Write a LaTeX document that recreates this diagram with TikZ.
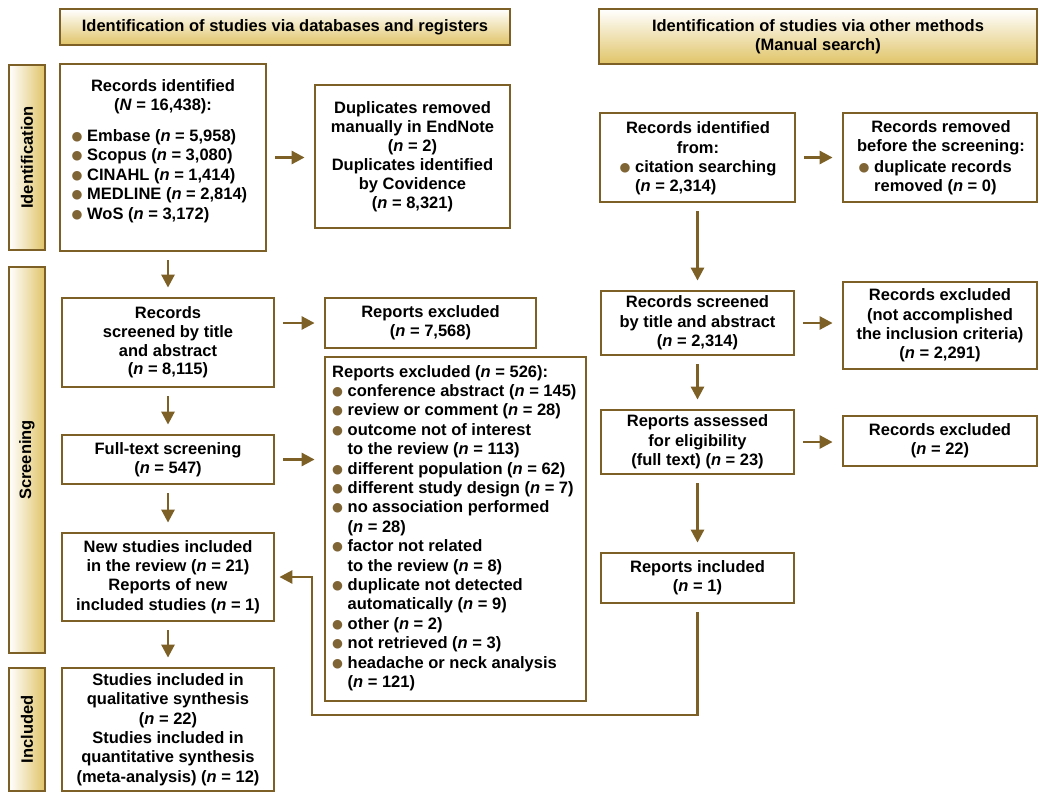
\documentclass[tikz,border=0pt]{standalone}
\usepackage{fontspec}
\setmainfont{Liberation Sans}
\newfontfamily\dejavu{DejaVu Sans}
\usetikzlibrary{arrows.meta}
\definecolor{brn}{HTML}{7D6025}
\definecolor{gld}{HTML}{E0C468}
\definecolor{bulc}{HTML}{7F6535}
\newcommand\bul{\makebox[15.5pt][l]{\raisebox{1pt}{\textcolor{bulc}{\fontsize{12.5}{12}\dejavu ●}}}}
\newcommand\ind{\hspace*{15.5pt}}
\begin{document}
\begin{tikzpicture}[x=1pt,y=-1pt,
  every node/.style={font=\fontsize{16.5}{19.4}\selectfont\bfseries, inner sep=0pt},
  box/.style={draw=brn, line width=2.8pt, fill=white, align=center},
  hdr/.style={draw=brn, line width=2.8pt, top color=white, bottom color=gld, align=center},
  side/.style={draw=brn, line width=2.8pt, left color=white, right color=gld},
  arr/.style={draw=brn, line width=2.8pt, -{Triangle[width=13pt,length=13pt]}, shorten <=8pt, shorten >=9pt}]
\useasboundingbox (0,0) rectangle (1039,798);
% headers
\node[hdr, minimum width=450pt, minimum height=36pt] (h1) at (285,27) {Identification of studies via databases and registers};
\node[hdr, minimum width=438pt, minimum height=55pt] (h2) at (818,36.5) {Identification of studies via other methods\\(Manual search)};
% side bars
\node[side, minimum width=36pt, minimum height=185pt] (sI) at (27,157.5) {};
\node[rotate=90] (sIt) at (27,157.5) {Identification};
\node[side, minimum width=36pt, minimum height=386pt] (sS) at (27,460) {};
\node[rotate=90] (sSt) at (27,460) {Screening};
\node[side, minimum width=36pt, minimum height=123pt] (sN) at (27,729.5) {};
\node[rotate=90] (sNt) at (27,729.5) {Included};
% left column
\node[box, minimum width=206pt, minimum height=187pt] (rid) at (163,157.5) {};
\node[align=center] (ridt) at (163,97) {Records identified\\(\textit{N} = 16,438):};
\node[align=left, anchor=west] (ridl) at (71.5,176) {\bul Embase (\textit{n} = 5,958)\\\bul Scopus (\textit{n} = 3,080)\\\bul CINAHL (\textit{n} = 1,414)\\\bul MEDLINE (\textit{n} = 2,814)\\\bul WoS (\textit{n} = 3,172)};
\node[box, minimum width=195pt, minimum height=143pt, font=\fontsize{16.5}{19}\selectfont\bfseries] (dup) at (412.5,156.5) {Duplicates removed\\manually in EndNote\\(\textit{n} = 2)\\Duplicates identified\\by Covidence\\(\textit{n} = 8,321)};
\node[box, minimum width=212pt, minimum height=89pt, font=\fontsize{16.5}{18.6}\selectfont\bfseries] (scr) at (168,342.5) {Records\\screened by title\\and abstract\\(\textit{n} = 8,115)};
\node[box, minimum width=211pt, minimum height=50pt] (ex1) at (430.5,323) {Reports excluded\\(\textit{n} = 7,568)};
\node[box, minimum width=261pt, minimum height=344pt] (ex2) at (455.5,529) {};
\node[align=left, anchor=west] (ex2l) at (332,528) {Reports excluded (\textit{n} = 526):\\
\bul conference abstract (\textit{n} = 145)\\
\bul review or comment (\textit{n} = 28)\\
\bul outcome not of interest\\
\ind to the review (\textit{n} = 113)\\
\bul different population (\textit{n} = 62)\\
\bul different study design (\textit{n} = 7)\\
\bul no association performed\\
\ind (\textit{n} = 28)\\
\bul factor not related\\
\ind to the review (\textit{n} = 8)\\
\bul duplicate not detected\\
\ind automatically (\textit{n} = 9)\\
\bul other (\textit{n} = 2)\\
\bul not retrieved (\textit{n} = 3)\\
\bul headache or neck analysis\\
\ind (\textit{n} = 121)};
\node[box, minimum width=212pt, minimum height=49pt] (ft) at (168,459.5) {Full-text screening\\(\textit{n} = 547)};
\node[box, minimum width=212pt, minimum height=88pt] (ns) at (168,577) {New studies included\\in the review (\textit{n} = 21)\\Reports of new\\included studies (\textit{n} = 1)};
\node[box, minimum width=212pt, minimum height=123pt] (inc) at (168,729.5) {Studies included in\\qualitative synthesis\\(\textit{n} = 22)\\Studies included in\\quantitative synthesis\\(meta-analysis) (\textit{n} = 12)};
% right column
\node[box, minimum width=195pt, minimum height=89pt] (rid2) at (697.5,157.5) {};
\node[align=center] (rid2t) at (698,137.5) {Records identified\\from:};
\node[align=left, anchor=west] (rid2l) at (619.5,177.5) {\bul citation searching\\\ind(\textit{n} = 2,314)};
\node[box, minimum width=194pt, minimum height=89pt] (rem) at (940,157.5) {};
\node[align=center] (remt) at (941,137.5) {Records removed\\before the screening:};
\node[align=left, anchor=west] (reml) at (858.5,177.5) {\bul duplicate records\\\ind removed (\textit{n} = 0)};
\node[box, minimum width=193pt, minimum height=64pt] (scr2) at (697.5,323) {Records screened\\by title and abstract\\(\textit{n} = 2,314)};
\node[box, minimum width=194pt, minimum height=87pt] (exr) at (940,325.5) {Records excluded\\(not accomplished\\the inclusion criteria)\\(\textit{n} = 2,291)};
\node[box, minimum width=193pt, minimum height=64pt] (ra) at (697.5,442) {Reports assessed\\for eligibility\\(full text) (\textit{n} = 23)};
\node[box, minimum width=194pt, minimum height=50pt] (exr2) at (940,441) {Records excluded\\(\textit{n} = 22)};
\node[box, minimum width=193pt, minimum height=50pt] (ri) at (697.5,578) {Reports included\\(\textit{n} = 1)};
% arrows
\draw[arr] (rid.east) -- (dup.west |- rid.east);
\draw[arr] (rid.south -| scr.north) -- (scr.north);
\draw[arr] (scr.east |- ex1.west) -- (ex1.west);
\draw[arr] (scr.south) -- (ft.north);
\draw[arr] (ft.east) -- (ex2.west |- ft.east);
\draw[arr] (ft.south) -- (ns.north);
\draw[arr] (ns.south) -- (inc.north);
\draw[arr] (rid2.east) -- (rem.west |- rid2.east);
\draw[arr] (rid2.south) -- (scr2.north);
\draw[arr] (scr2.east) -- (exr.west |- scr2.east);
\draw[arr] (scr2.south) -- (ra.north);
\draw[arr] (ra.east) -- (exr2.west |- ra.east);
\draw[arr] (ra.south) -- (ri.north);
\coordinate (fb1) at (697.5,715);
\coordinate (fb2) at (312,715);
\draw[arr, shorten >=4pt] (ri.south) -- (fb1) -- (fb2) -- (fb2 |- ns.east) -- (ns.east);
\end{tikzpicture}
\end{document}
